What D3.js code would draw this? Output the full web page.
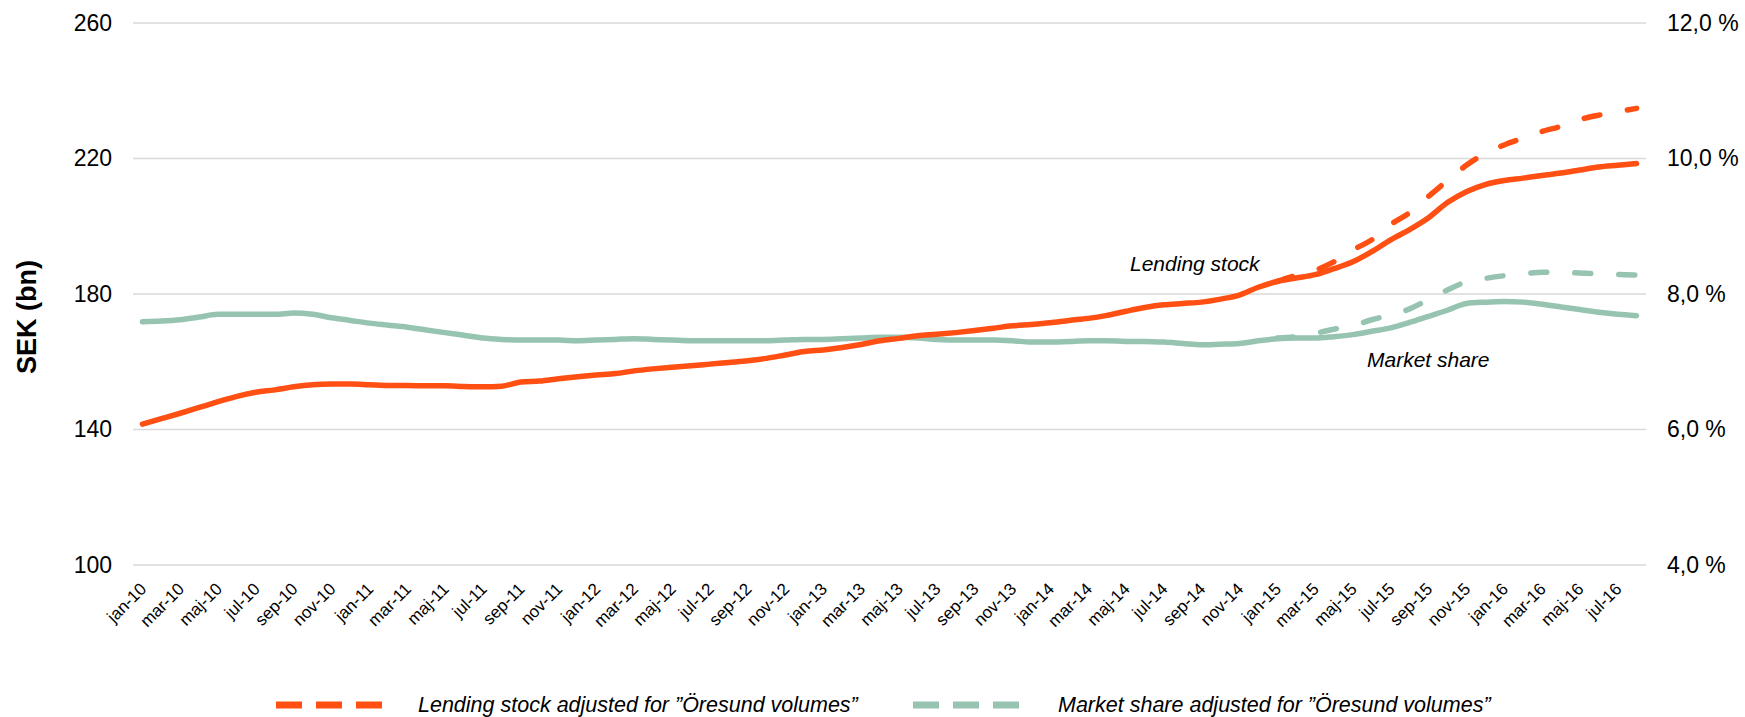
<!DOCTYPE html>
<html>
<head>
<meta charset="utf-8">
<script src="https://cdn.jsdelivr.net/npm/d3@7"></script>
<style>
  html, body { margin: 0; padding: 0; background: #ffffff; }
  svg { display: block; font-family: "Liberation Sans", Arial, sans-serif; }
</style>
</head>
<body>
<svg id="chart" width="1745" height="717"></svg>
<script>
// ---------------- DATA ----------------
const months = [
  'jan-10','feb-10','mar-10','apr-10','maj-10','jun-10','jul-10','aug-10','sep-10','okt-10','nov-10','dec-10',
  'jan-11','feb-11','mar-11','apr-11','maj-11','jun-11','jul-11','aug-11','sep-11','okt-11','nov-11','dec-11',
  'jan-12','feb-12','mar-12','apr-12','maj-12','jun-12','jul-12','aug-12','sep-12','okt-12','nov-12','dec-12',
  'jan-13','feb-13','mar-13','apr-13','maj-13','jun-13','jul-13','aug-13','sep-13','okt-13','nov-13','dec-13',
  'jan-14','feb-14','mar-14','apr-14','maj-14','jun-14','jul-14','aug-14','sep-14','okt-14','nov-14','dec-14',
  'jan-15','feb-15','mar-15','apr-15','maj-15','jun-15','jul-15','aug-15','sep-15','okt-15','nov-15','dec-15',
  'jan-16','feb-16','mar-16','apr-16','maj-16','jun-16','jul-16','aug-16'
];

// Lending stock, SEK bn (left axis)
const lendingStock = [
  141.6,143.2,144.8,146.5,148.2,149.8,151.0,151.7,152.6,153.2,
  153.4,153.4,153.2,153.0,153.0,152.9,152.9,152.7,152.6,152.8,
  154.0,154.3,155.0,155.6,156.1,156.5,157.3,157.9,158.4,158.8,
  159.3,159.8,160.3,161.0,162.0,163.0,163.5,164.2,165.1,166.2,
  166.9,167.7,168.1,168.6,169.2,169.9,170.6,171.0,171.5,172.2,
  172.8,173.7,174.9,176.0,176.8,177.2,177.6,178.5,179.7,182.0,
  183.7,184.7,185.7,187.5,189.5,192.5,196.0,199.0,202.5,207.0,
  210.2,212.3,213.5,214.2,215.0,215.7,216.6,217.5,218.0,218.5
];

// Market share, % (right axis)
const marketShare = [
  7.59,7.60,7.62,7.66,7.70,7.70,7.70,7.70,7.72,7.70,
  7.65,7.61,7.57,7.54,7.51,7.47,7.43,7.39,7.35,7.33,
  7.32,7.32,7.32,7.31,7.32,7.33,7.34,7.33,7.32,7.31,
  7.31,7.31,7.31,7.31,7.32,7.33,7.33,7.34,7.35,7.36,
  7.36,7.35,7.33,7.32,7.32,7.32,7.31,7.29,7.29,7.30,
  7.31,7.31,7.30,7.30,7.29,7.27,7.25,7.26,7.27,7.31,
  7.34,7.35,7.35,7.37,7.40,7.45,7.50,7.58,7.67,7.76,
  7.86,7.88,7.89,7.88,7.85,7.81,7.77,7.73,7.70,7.68
];

// Adjusted series start in jan-15
const adjustedMonths = [
  'jan-15','feb-15','mar-15','apr-15','maj-15','jun-15','jul-15','aug-15','sep-15','okt-15','nov-15','dec-15',
  'jan-16','feb-16','mar-16','apr-16','maj-16','jun-16','jul-16','aug-16'
];
const lendingStockAdj = [
  183.7,185.5,187.0,189.5,193.0,196.0,200.5,204.0,208.8,213.5,
  218.0,221.5,224.0,226.0,228.0,229.5,231.5,232.8,233.8,234.8
];
const marketShareAdj = [
  7.35,7.37,7.42,7.48,7.53,7.62,7.69,7.78,7.92,8.06,
  8.18,8.23,8.27,8.30,8.32,8.32,8.31,8.30,8.29,8.28
];

const leftTicks = [100, 140, 180, 220, 260];
const rightTicks = [4, 6, 8, 10, 12];
const xTickLabels = months.filter((m, i) => i % 2 === 0);

const seriesNames = {
  lending: 'Lending stock',
  share: 'Market share',
  lendingAdj: 'Lending stock adjusted for \u201DÖresund volumes\u201D',
  shareAdj: 'Market share adjusted for \u201DÖresund volumes\u201D'
};
const yTitle = 'SEK (bn)';

// ---------------- CHART ----------------
const ORANGE = '#FF4F12';
const GREEN = '#97C4B0';
const FONT = '"Liberation Sans", Arial, sans-serif';
const svg = d3.select('#chart');

const plot = { left: 133, right: 1646, top: 23, bottom: 565 };

const x = d3.scaleBand().domain(months).range([plot.left, plot.right]).padding(0);
const xc = m => x(m) + x.bandwidth() / 2;
const yL = d3.scaleLinear().domain([100, 260]).range([plot.bottom, plot.top]);
const yR = d3.scaleLinear().domain([4, 12]).range([plot.bottom, plot.top]);

// gridlines
svg.append('g')
  .selectAll('line')
  .data(leftTicks)
  .join('line')
  .attr('x1', plot.left).attr('x2', plot.right)
  .attr('y1', d => yL(d)).attr('y2', d => yL(d))
  .attr('stroke', '#d9d9d9').attr('stroke-width', 1.5);

// left axis
const gL = svg.append('g')
  .attr('transform', `translate(${plot.left},0)`)
  .call(d3.axisLeft(yL).tickValues(leftTicks).tickSize(0).tickPadding(21));
gL.select('.domain').remove();
gL.selectAll('text').attr('font-size', 23).attr('fill', '#000').attr('font-family', FONT);

// right axis
const gR = svg.append('g')
  .attr('transform', `translate(${plot.right},0)`)
  .call(d3.axisRight(yR).tickValues(rightTicks).tickSize(0).tickPadding(21)
    .tickFormat(d => d3.format('.1f')(d).replace('.', ',') + ' %'));
gR.select('.domain').remove();
gR.selectAll('text').attr('font-size', 23).attr('fill', '#000').attr('font-family', FONT);

// x axis labels
const gX = svg.append('g')
  .attr('transform', `translate(0,${plot.bottom})`)
  .call(d3.axisBottom(x).tickValues(xTickLabels).tickSize(0).tickPadding(0));
gX.select('.domain').remove();
gX.selectAll('.tick text')
  .attr('font-size', 17)
  .attr('fill', '#000')
  .attr('font-family', FONT)
  .attr('text-anchor', 'end')
  .attr('dy', null)
  .attr('y', 0)
  .attr('transform', 'translate(5,25) rotate(-45)');

// y title
svg.append('text')
  .attr('transform', 'translate(36,317) rotate(-90)')
  .attr('text-anchor', 'middle')
  .attr('font-size', 27)
  .attr('font-weight', 'bold')
  .attr('font-family', FONT)
  .text(yTitle);

// lines
const lineL = d3.line().x((d, i) => xc(months[i])).y(d => yL(d)).curve(d3.curveMonotoneX);
const lineR = d3.line().x((d, i) => xc(months[i])).y(d => yR(d)).curve(d3.curveMonotoneX);
const lineLAdj = d3.line().x((d, i) => xc(adjustedMonths[i])).y(d => yL(d)).curve(d3.curveMonotoneX);
const lineRAdj = d3.line().x((d, i) => xc(adjustedMonths[i])).y(d => yR(d)).curve(d3.curveMonotoneX);

svg.append('path').datum(marketShare).attr('d', lineR)
  .attr('fill', 'none').attr('stroke', GREEN).attr('stroke-width', 5.5)
  .attr('stroke-linecap', 'round').attr('stroke-linejoin', 'round');
svg.append('path').datum(lendingStock).attr('d', lineL)
  .attr('fill', 'none').attr('stroke', ORANGE).attr('stroke-width', 5.5)
  .attr('stroke-linecap', 'round').attr('stroke-linejoin', 'round');
svg.append('path').datum(marketShareAdj).attr('d', lineRAdj)
  .attr('fill', 'none').attr('stroke', GREEN).attr('stroke-width', 5.5)
  .attr('stroke-linecap', 'round').attr('stroke-dasharray', '16 28');
svg.append('path').datum(lendingStockAdj).attr('d', lineLAdj)
  .attr('fill', 'none').attr('stroke', ORANGE).attr('stroke-width', 5.5)
  .attr('stroke-linecap', 'round').attr('stroke-dasharray', '16 28');

// annotations
svg.append('text').attr('x', 1130).attr('y', 271)
  .attr('font-size', 21).attr('font-style', 'italic').attr('font-family', FONT).text(seriesNames.lending);
svg.append('text').attr('x', 1367).attr('y', 367)
  .attr('font-size', 21).attr('font-style', 'italic').attr('font-family', FONT).text(seriesNames.share);

// legend
const legendItems = [
  { name: seriesNames.lendingAdj, color: ORANGE, x0: 276, tx: 418 },
  { name: seriesNames.shareAdj, color: GREEN, x0: 913, tx: 1058 }
];
const lg = svg.append('g');
legendItems.forEach(it => {
  lg.append('line')
    .attr('x1', it.x0).attr('x2', it.x0 + 106)
    .attr('y1', 705).attr('y2', 705)
    .attr('stroke', it.color).attr('stroke-width', 7)
    .attr('stroke-dasharray', '26 14');
  lg.append('text').attr('x', it.tx).attr('y', 712)
    .attr('font-size', 21.5).attr('font-style', 'italic').attr('font-family', FONT).text(it.name);
});
</script>
</body>
</html>
